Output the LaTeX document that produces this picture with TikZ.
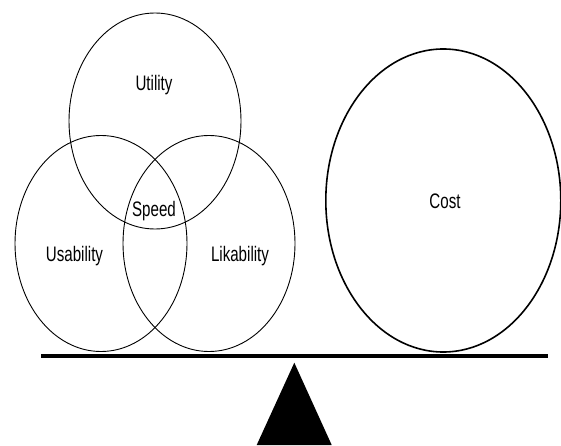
\documentclass[tikz,border=0pt]{standalone}
\usepackage{fontspec}
\setmainfont{Liberation Sans}
\newfontfamily\narrowsans[FakeStretch=0.72]{Liberation Sans}
\usetikzlibrary{shapes.geometric}
\begin{document}
\begin{tikzpicture}[x=1pt,y=-1pt,
  quality/.style={draw,ellipse,inner sep=0pt,minimum width=172pt,minimum height=216pt,line width=0.9pt},
  weight/.style={draw,ellipse,inner sep=0pt,minimum width=235pt,minimum height=303pt,line width=1.6pt},
  lbl/.style={font=\narrowsans\fontsize{21}{21}\selectfont,anchor=base,inner sep=0pt}]
  \useasboundingbox (0,0) rectangle (561,446);
  % three overlapping qualities on the left pan
  \node[quality] (utility) at (155,121) {};
  \node[quality] (usability) at (101,243.5) {};
  \node[quality] (likability) at (209,243.5) {};
  % the counterweight on the right pan
  \node[weight] (cost) at (443.3,200.5) {};
  % labels
  \node[lbl] (tutility) at (154,90.5) {Utility};
  \node[lbl] (tspeed) at (154,216.5) {Speed};
  \node[lbl] (tusability) at (74.5,261.5) {Usability};
  \node[lbl] (tlikability) at (240,261.5) {Likability};
  \node[lbl] (tcost) at (445,208) {Cost};
  % beam and fulcrum
  \coordinate (beamL) at (41,356);
  \coordinate (beamR) at (548,356);
  \draw[line width=4.2pt] (beamL) -- (beamR);
  \coordinate (apex) at (294.3,362.7);
  \coordinate (baseL) at (256.7,445);
  \coordinate (baseR) at (331.7,445);
  \fill (apex) -- (baseR) -- (baseL) -- cycle;
\end{tikzpicture}
\end{document}
